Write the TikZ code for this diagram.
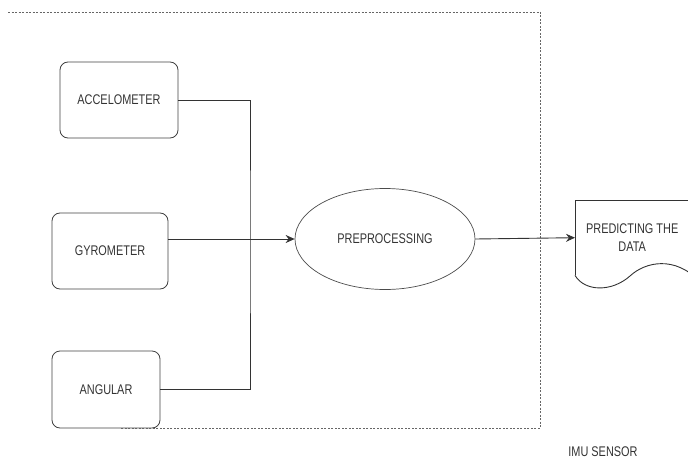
\documentclass[tikz,border=0pt]{standalone}
\usepackage{fontspec}
\setmainfont[FakeStretch=0.78]{Liberation Sans}
\usetikzlibrary{calc,arrows.meta,shapes.geometric,positioning}
\tikzset{sensor/.style={draw=black!75,line width=.8pt,rounded corners=8pt,inner sep=0,text=black!80},
  proc/.style={ellipse,draw=black!70,line width=.7pt,inner sep=0,minimum width=180pt,minimum height=101pt,text=black!80},
  wire/.style={black!80,line width=.9pt},
  frame/.style={black!60,line width=.6pt,dash pattern=on 2pt off 1.5pt}}

\begin{document}
\begin{tikzpicture}[x=1pt,y=-1pt,font=\fontsize{14}{18}\selectfont,>={Stealth[length=9pt,width=8pt]}]

\useasboundingbox (0,0) rectangle (688,460);
\clip (0,0) rectangle (688,460);

% Nodes
\node[sensor,minimum width=118pt,minimum height=76pt] (accel) at (119,100) {ACCELOMETER};
\node[sensor,minimum width=116pt,minimum height=76pt] (gyro) at (110,251) {GYROMETER};
\node[sensor,minimum width=108pt,minimum height=77pt] (ang) at (106,389.5) {ANGULAR};
\node[proc] (prep) at (385,239) {PREPROCESSING};
\node[inner sep=0,minimum width=114pt,minimum height=75pt,anchor=north west,align=center,text=black!80] (predict) at (575,200) {PREDICTING THE\\DATA};
\node[text=black!80] (imu) at (603,452) {IMU SENSOR};
\coordinate (bus) at (250,239);

% The sensor frame
\draw[frame] (8,12) -- (540,12) -- (540,428) -- (120,428);

% The document shape
\draw[wire] (predict.south west) -- (predict.north west) -- (700,200);
\draw[wire] (predict.south west) .. controls (585,292) and (612,292) .. (630,276)
  .. controls (645,262) and (675,255) .. (700,282);

% Connectors
\draw[wire] (accel.east) -| (bus) |- (ang.east);
\draw[wire,->] (gyro.east |- prep.west) -- (prep.west);
\draw[wire,->] (prep.east) -- (predict.west);

\end{tikzpicture}
\end{document}
